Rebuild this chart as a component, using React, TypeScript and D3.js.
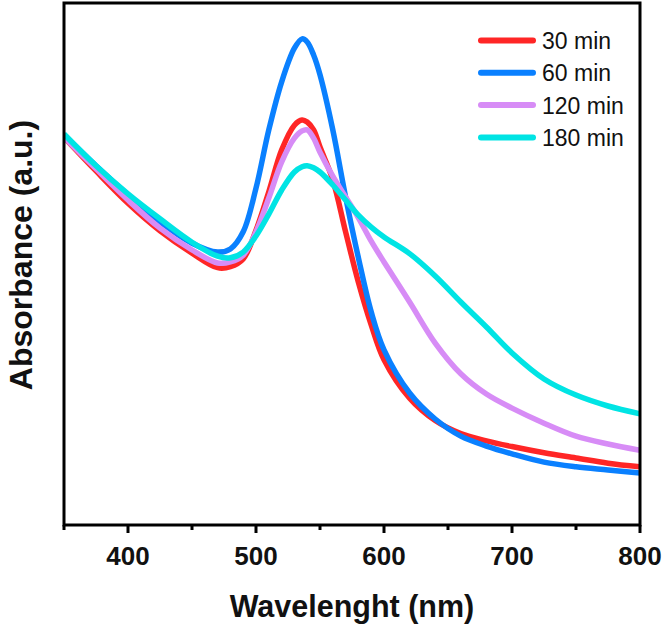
import React from "react";
import * as d3 from "d3";

const wavelengths = [350, 375, 400, 425, 450, 470, 480, 490, 500, 510, 520, 530, 536, 540, 545, 550, 560, 570, 580, 590, 600, 620, 640, 660, 680, 700, 725, 750, 775, 800];

const min30 = [0.742, 0.677, 0.615, 0.562, 0.519, 0.491, 0.493, 0.508, 0.563, 0.637, 0.717, 0.765, 0.775, 0.771, 0.756, 0.723, 0.660, 0.560, 0.463, 0.381, 0.314, 0.240, 0.197, 0.172, 0.158, 0.147, 0.135, 0.125, 0.115, 0.108];
const min60 = [0.746, 0.687, 0.631, 0.579, 0.538, 0.521, 0.527, 0.560, 0.644, 0.756, 0.848, 0.913, 0.931, 0.925, 0.900, 0.862, 0.756, 0.627, 0.510, 0.406, 0.333, 0.250, 0.200, 0.167, 0.148, 0.133, 0.117, 0.108, 0.102, 0.096];
const min120 = [0.742, 0.681, 0.621, 0.567, 0.525, 0.500, 0.502, 0.515, 0.560, 0.625, 0.694, 0.740, 0.754, 0.756, 0.740, 0.713, 0.667, 0.627, 0.587, 0.542, 0.502, 0.425, 0.346, 0.287, 0.248, 0.221, 0.192, 0.167, 0.152, 0.140];
const min180 = [0.748, 0.687, 0.633, 0.585, 0.540, 0.513, 0.510, 0.521, 0.552, 0.594, 0.640, 0.675, 0.685, 0.687, 0.683, 0.675, 0.650, 0.621, 0.592, 0.569, 0.550, 0.518, 0.475, 0.425, 0.377, 0.327, 0.277, 0.246, 0.225, 0.210];

const seriesNames = ["30 min", "60 min", "120 min", "180 min"];
const seriesValues = [min30, min60, min120, min180];
const seriesColors = ["#FF2626", "#0A80FF", "#D78CF6", "#00E4E4"];

const majorTicks = [400, 500, 600, 700, 800];
const minorTicks = [350, 450, 550, 650, 750];

const W = 664;
const H = 630;
const left = 64;
const right = 640;
const top = 3;
const bottom = 525;

export default function App() {
  const x = d3.scaleLinear().domain([350, 800]).range([left, right]);
  const y = d3.scaleLinear().domain([0, 1]).range([523, 3]);
  const line = d3
    .line<[number, number]>()
    .x((d) => x(d[0]))
    .y((d) => y(d[1]))
    .curve(d3.curveCatmullRom.alpha(0.5));

  return (
    <svg
      width={W}
      height={H}
      style={{ position: "absolute", left: 0, top: 0, background: "#fff" }}
      fontFamily="'Liberation Sans', Arial, sans-serif"
    >
      <defs>
        <clipPath id="plotclip">
          <rect x={left} y={top} width={right - left} height={bottom - top} />
        </clipPath>
      </defs>
      <g clipPath="url(#plotclip)">
        {seriesValues.map((vals, i) => (
          <path
            key={seriesNames[i]}
            d={line(wavelengths.map((w, j) => [w, vals[j]] as [number, number])) || ""}
            fill="none"
            stroke={seriesColors[i]}
            strokeWidth={5.5}
            strokeLinejoin="round"
          />
        ))}
      </g>
      <rect
        x={left}
        y={top}
        width={right - left}
        height={bottom - top}
        fill="none"
        stroke="#000"
        strokeWidth={3}
      />
      {majorTicks.map((t) => (
        <g key={"M" + t}>
          <line x1={x(t)} x2={x(t)} y1={bottom} y2={bottom + 8} stroke="#000" strokeWidth={3} />
          <text
            x={x(t)}
            y={565}
            textAnchor="middle"
            fontSize={26}
            fontWeight="bold"
            fill="#111"
          >
            {t}
          </text>
        </g>
      ))}
      {minorTicks.map((t) => (
        <line key={"m" + t} x1={x(t)} x2={x(t)} y1={bottom} y2={bottom + 5} stroke="#000" strokeWidth={3} />
      ))}
      <text x={352} y={617} textAnchor="middle" fontSize={30.5} fontWeight="bold" fill="#111">
        Wavelenght (nm)
      </text>
      <text
        transform={`translate(32,255) rotate(-90)`}
        textAnchor="middle"
        fontSize={32}
        fontWeight="bold"
        fill="#111"
      >
        Absorbance (a.u.)
      </text>
      {seriesNames.map((name, i) => {
        const base = 49 + i * 32.3;
        return (
          <g key={"leg" + name}>
            <line
              x1={481}
              x2={533}
              y1={base - 8.5}
              y2={base - 8.5}
              stroke={seriesColors[i]}
              strokeWidth={6}
              strokeLinecap="round"
            />
            <text x={542} y={base} fontSize={23} fill="#111">
              {name}
            </text>
          </g>
        );
      })}
    </svg>
  );
}
